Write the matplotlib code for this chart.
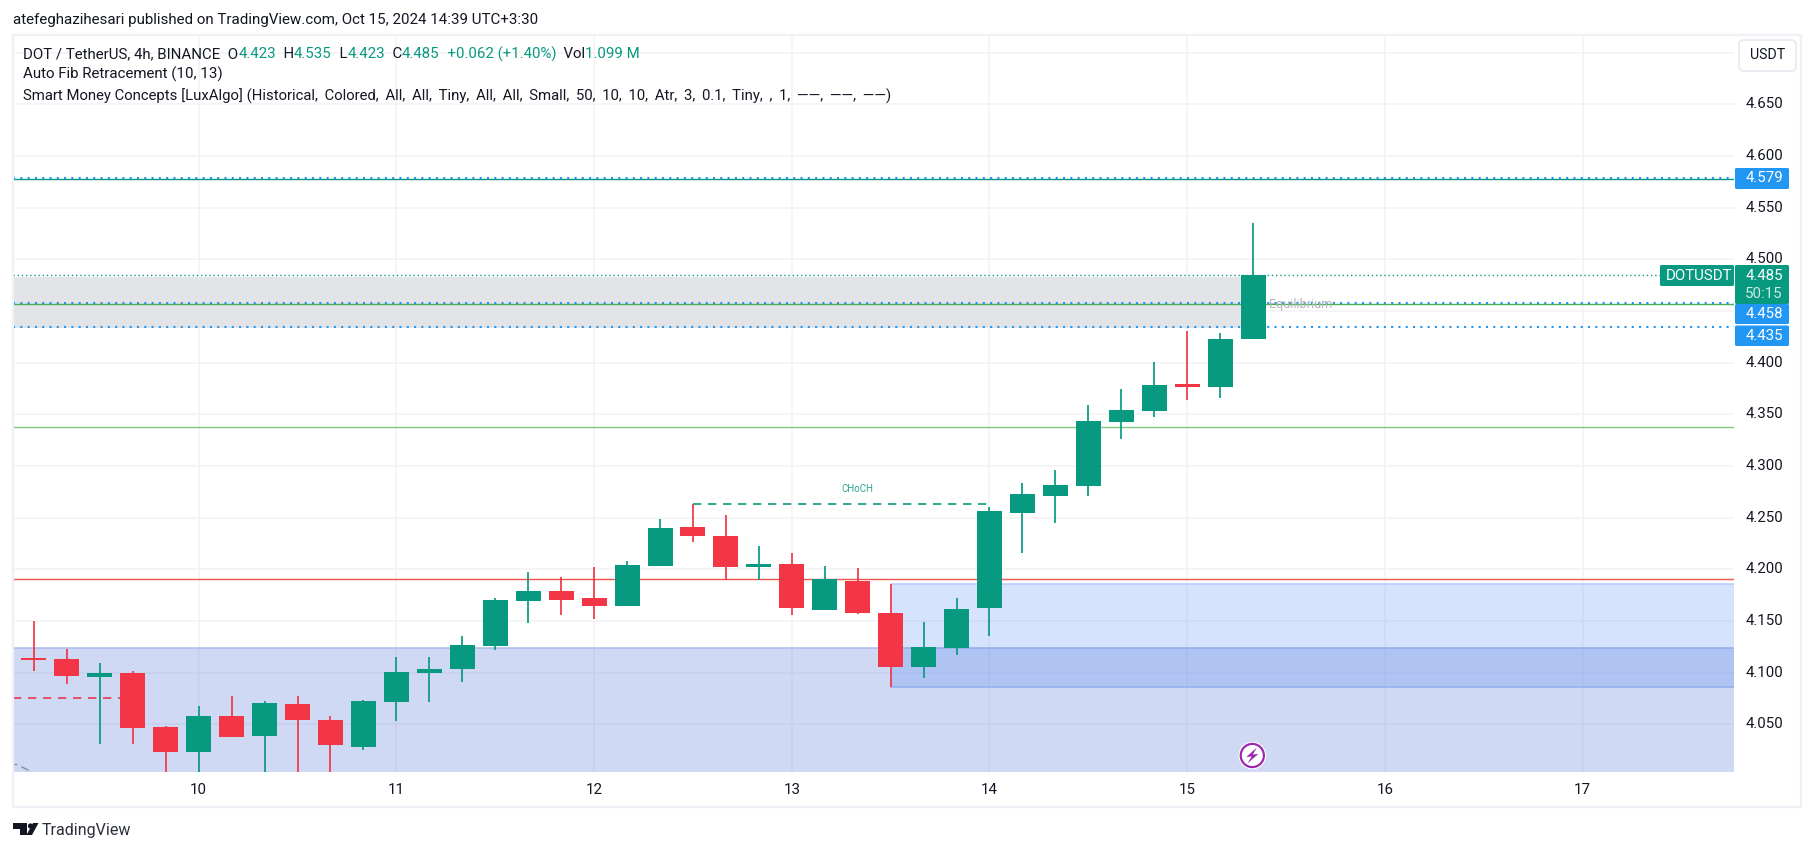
import matplotlib
matplotlib.use('Agg')
import matplotlib.pyplot as plt
from matplotlib.lines import Line2D
from matplotlib.patches import Rectangle, FancyBboxPatch, Circle, Polygon

W, H = 1814, 851

UP = '#089981'
DOWN = '#f23645'
BLUE = '#2196f3'
TEXT = '#131722'

# bar number, counted from the first bar of day 10 (6 bars a day)
bars = list(range(-5, 33))
opens = [4.114, 4.113, 4.096, 4.100, 4.047, 4.023, 4.058, 4.039, 4.070, 4.054,
         4.028, 4.072, 4.100, 4.104, 4.126, 4.169, 4.179, 4.172, 4.165, 4.203,
         4.241, 4.232, 4.202, 4.205, 4.161, 4.189, 4.158, 4.105, 4.124, 4.163,
         4.255, 4.271, 4.281, 4.343, 4.353, 4.379, 4.376, 4.423]
highs = [4.150, 4.123, 4.109, 4.102, 4.048, 4.068, 4.077, 4.073, 4.077, 4.058,
         4.074, 4.115, 4.115, 4.135, 4.172, 4.197, 4.193, 4.202, 4.208, 4.249,
         4.263, 4.253, 4.223, 4.216, 4.203, 4.201, 4.186, 4.149, 4.172, 4.260,
         4.284, 4.296, 4.359, 4.375, 4.401, 4.431, 4.429, 4.535]
lows = [4.102, 4.089, 4.031, 4.031, 3.99, 3.99, 4.038, 3.99, 3.99, 3.99,
        4.025, 4.053, 4.072, 4.091, 4.122, 4.148, 4.156, 4.152, 4.165, 4.203,
        4.226, 4.190, 4.190, 4.156, 4.161, 4.157, 4.086, 4.095, 4.117, 4.135,
        4.216, 4.245, 4.271, 4.326, 4.347, 4.364, 4.366, 4.423]
closes = [4.112, 4.097, 4.100, 4.046, 4.023, 4.058, 4.038, 4.071, 4.054, 4.030,
          4.073, 4.101, 4.104, 4.127, 4.170, 4.179, 4.170, 4.165, 4.204, 4.240,
          4.232, 4.202, 4.205, 4.163, 4.191, 4.158, 4.105, 4.125, 4.162, 4.256,
          4.273, 4.282, 4.344, 4.354, 4.378, 4.376, 4.423, 4.485]

price_ticks = [4.05, 4.10, 4.15, 4.20, 4.25, 4.30, 4.35, 4.40, 4.45, 4.50, 4.55, 4.60, 4.65, 4.70]
price_tick_labels = ['4.050', '4.100', '4.150', '4.200', '4.250', '4.300', '4.350', '4.400',
                     '', '4.500', '4.550', '4.600', '4.650', '']
day_ticks = [10, 11, 12, 13, 14, 15, 16, 17]

fib_top = 4.579
fib_mid = 4.458
fib_low = 4.435
last_close = 4.485
zone_premium = (4.4333, 4.4832)
green_level = 4.3375
red_level = 4.1903
zone_a_top = 4.1236
zone_b = (4.0861, 4.1858)
red_dash_level = 4.0752
choch_level = 4.2632


def px_x(x):
    return x / W


def px_y(y):
    return 1 - y / H


def day(bar):
    return 10 + bar / 6


fig = plt.figure(figsize=(W / 100, H / 100), dpi=100, facecolor='white')
plt.rcParams['font.family'] = ['Roboto', 'DejaVu Sans']

# pane: pixels 13-1734 across, 34-772 down
ax = fig.add_axes([px_x(13), px_y(771.7), px_x(1734 - 13), (771.7 - 34) / H])
xmin = 10 + (13 - 198.7) / 197.7
xmax = 10 + (1734 - 198.7) / 197.7
ymin = 4.65 - (771.7 - 104.4) / 1033.2
ymax = 4.65 + (104.4 - 34) / 1033.2
ax.set_xlim(xmin, xmax)
ax.set_ylim(ymin, ymax)
for s in ax.spines.values():
    s.set_visible(False)
ax.set_xticks([])
ax.set_yticks([])

for p in price_ticks:
    ax.axhline(p, color='#f2f3f6', lw=1.1, zorder=1)
for d in day_ticks:
    ax.axvline(d, color='#f2f3f6', lw=1.1, zorder=1)

# zones
ax.add_patch(Rectangle((xmin, ymin), xmax - xmin, zone_a_top - ymin, fc=(51 / 255, 94 / 255, 207 / 255, 0.23), ec='none', zorder=2))
ax.axhline(zone_a_top, color='#a9bcea', lw=1.1, zorder=2)
ax.add_patch(Rectangle((day(21), zone_b[0]), xmax - day(21), zone_b[1] - zone_b[0], fc=(50 / 255, 115 / 255, 245 / 255, 0.2), ec='none', zorder=2))
ax.plot([day(21), xmax], [zone_b[1], zone_b[1]], color='#b4ccf8', lw=1.1, zorder=2)
ax.plot([day(21), xmax], [zone_b[0], zone_b[0]], color='#8fb0ee', lw=1.1, zorder=2)
ax.add_patch(Rectangle((xmin, zone_premium[0]), day(32) - xmin, zone_premium[1] - zone_premium[0], fc='#e2e4e7', ec='none', zorder=2))

# levels
ax.axhline(green_level, color='#81c784', lw=1.0, zorder=3)
ax.axhline(red_level, color='#ef5350', lw=1.0, zorder=3)
ax.axhline(fib_top - 0.0013, color='#089981', lw=1.0, zorder=3)
ax.axhline(fib_top, color=BLUE, lw=1.5, ls=(0, (1, 2.5)), zorder=3)
ax.axhline(fib_mid - 0.001, color='#4caf50', lw=1.0, zorder=3)
ax.axhline(fib_mid, color=BLUE, lw=1.5, ls=(0, (1, 2.5)), zorder=3)
ax.axhline(fib_low, color=BLUE, lw=1.5, ls=(0, (1, 2.5)), zorder=3)
ax.plot([xmin, 10 + (1660 - 198.7) / 197.7], [last_close, last_close], color=UP, lw=1, ls=(0, (1, 2)), zorder=3)
ax.plot([xmin, day(-2)], [red_dash_level, red_dash_level], color='#e5395a', lw=1.2, ls=(0, (5, 4)), zorder=3)
ax.plot([day(15), day(24)], [choch_level, choch_level], color=UP, lw=1.2, ls=(0, (5, 4)), zorder=3)

ax.text(day(20), choch_level + 0.015, 'CHoCH', color=UP, fontsize=7, ha='center', va='center', alpha=0.85, zorder=4)
ax.text(day(32) + 0.08, fib_mid - 0.0015, 'Equilibrium', color='#b2b5be', fontsize=9, ha='left', va='center', zorder=4)

# candles
body_w = 25 / 197.7
for b, o, h, l, c in zip(bars, opens, highs, lows, closes):
    col = UP if c >= o else DOWN
    ax.plot([day(b), day(b)], [l, h], color=col, lw=1.25, solid_capstyle='butt', zorder=5)
    ax.add_patch(Rectangle((day(b) - body_w / 2, min(o, c)), body_w, abs(c - o), fc=col, ec='none', zorder=6))

# leftover label fragments at the pane's lower left corner
fig.add_artist(Line2D([px_x(14), px_x(16)], [px_y(763.5), px_y(763.5)], color='#8a8d99', lw=1, zorder=7))
fig.add_artist(Line2D([px_x(22), px_x(28)], [px_y(767), px_y(770)], color='#8a8d99', lw=1, zorder=7))

# lightning icon
icon_x, icon_y = 1252.3, 755.5
fig.patches.append(Circle((icon_x, H - icon_y), 13.8, fc='white', ec='none', transform=None, zorder=8))
fig.patches.append(Circle((icon_x, H - icon_y), 11.6, fc='white', ec='#9c27b0', lw=1.6, transform=None, zorder=8))
fig.patches.append(Polygon([(icon_x + 4.5, H - icon_y + 8), (icon_x - 6, H - icon_y - 1.5), (icon_x - 0.5, H - icon_y - 1),
                            (icon_x - 5, H - icon_y - 8), (icon_x + 6, H - icon_y + 1.5), (icon_x + 0.5, H - icon_y + 1)],
                           fc='#9c27b0', ec='none', transform=None, zorder=9))

# outer frame
frame = '#f0f1f7'
fig.patches.append(Rectangle((13, H - 806.5), 1800.5 - 13, 806.5 - 35, fc='none', ec=frame, lw=1.7, transform=None, zorder=7))

# header and legend
fig.text(px_x(12.7), px_y(20), 'atefeghazihesari published on TradingView.com, Oct 15, 2024 14:39 UTC+3:30',
         color=TEXT, fontsize=10.9, va='center')
leg1 = [('DOT / TetherUS, 4h, BINANCE  O', TEXT), ('4.423', UP), ('  H', TEXT), ('4.535', UP), ('  L', TEXT), ('4.423', UP),
        ('  C', TEXT), ('4.485', UP), ('  +0.062 (+1.40%)', UP), ('  Vol', TEXT), ('1.099 M', UP)]
r = fig.canvas.get_renderer()
x = 23
for s, col in leg1:
    t = fig.text(px_x(x), px_y(54), s, color=col, fontsize=10.8, va='center')
    x = t.get_window_extent(r).x1
fig.text(px_x(23), px_y(74.5), 'Auto Fib Retracement (10, 13)', color=TEXT, fontsize=10.9, va='center')
smc_args = 'Historical, Colored, All, All, Tiny, All, All, Small, 50, 10, 10, Atr, 3, 0.1, Tiny, , 1, ——, ——, ——'
fig.text(px_x(23), px_y(96), 'Smart Money Concepts [LuxAlgo] (' + smc_args.replace(', ', ',\u2009 ') + ')',
         color=TEXT, fontsize=10.7, va='center')

# price axis
for p, lab in zip(price_ticks, price_tick_labels):
    if lab:
        fig.text(px_x(1764), px_y(104.4 + (4.65 - p) * 1033.2), lab, color=TEXT, fontsize=10.8, ha='center', va='center')


def price_tag(text, y0, y1, color, txt_color='white', x0=1735, x1=1789):
    fig.patches.append(FancyBboxPatch((x0, H - y1), x1 - x0, y1 - y0, boxstyle='round,pad=0,rounding_size=1.5',
                                      fc=color, ec='none', transform=None, zorder=8))
    fig.text(px_x((x0 + x1) / 2 + 2), px_y((y0 + y1) / 2), text, color=txt_color, fontsize=10.8, ha='center', va='center', zorder=9)


price_tag('4.579', 168, 189, BLUE)
price_tag('4.458', 304, 324, BLUE)
price_tag('4.435', 325.5, 346, BLUE)
fig.patches.append(FancyBboxPatch((1735, H - 304), 54, 39, boxstyle='round,pad=0,rounding_size=1.5', fc=UP, ec='none', transform=None, zorder=8))
fig.text(px_x(1764), px_y(275.5), '4.485', color='white', fontsize=10.8, ha='center', va='center', zorder=9)
fig.text(px_x(1764), px_y(293.5), '50:15', color='#cfe9e3', fontsize=10.8, ha='center', va='center', zorder=9)
price_tag('DOTUSDT', 265, 286, UP, x0=1660, x1=1734)

# USDT button
fig.patches.append(FancyBboxPatch((1739, H - 71), 57, 31, boxstyle='round,pad=0,rounding_size=5', fc='white', ec='#e8e9f0', lw=1.3, transform=None, zorder=8))
fig.text(px_x(1767.5), px_y(55), 'USDT', color=TEXT, fontsize=10.2, ha='center', va='center', zorder=9)

# day axis
for d in day_ticks:
    fig.text(px_x(198.7 + (d - 10) * 197.7), px_y(790), str(d), color=TEXT, fontsize=10.8, ha='center', va='center')

# logo
fig.text(px_x(41.5), px_y(830), 'TradingView', color='#2a2e39', fontsize=11.5, va='center')
fig.patches.append(Polygon([(13, H - 823), (27, H - 823), (27, H - 835), (20, H - 835), (20, H - 829), (13, H - 829)], fc='#131722', ec='none', transform=None, zorder=9))
fig.patches.append(Circle((30.5, H - 826), 2.6, fc='#131722', ec='none', transform=None, zorder=9))
fig.patches.append(Polygon([(32, H - 835), (38.5, H - 823), (33, H - 823), (26.5, H - 835)], fc='#131722', ec='none', transform=None, zorder=9))

fig.savefig('out.png', dpi=100, facecolor='white')
